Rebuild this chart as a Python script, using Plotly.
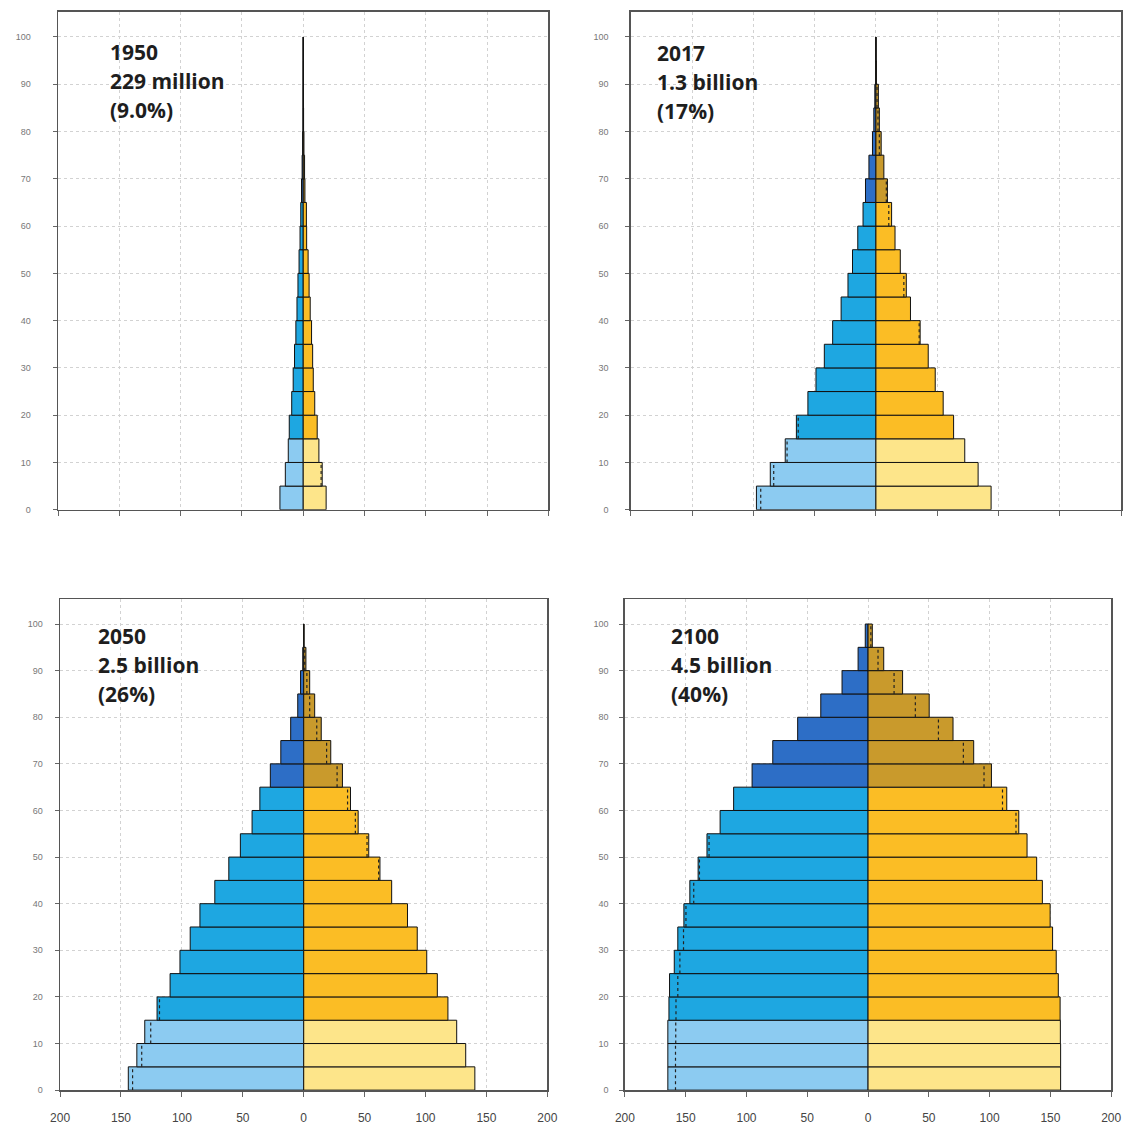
import plotly.graph_objects as go

# Age groups (start of each 5-year group)
age_start = [0, 5, 10, 15, 20, 25, 30, 35, 40, 45, 50, 55, 60, 65, 70, 75, 80, 85, 90, 95]
age_ticks = [0, 10, 20, 30, 40, 50, 60, 70, 80, 90, 100]
x_ticks = [-200, -150, -100, -50, 0, 50, 100, 150, 200]
x_tick_labels = ["200", "150", "100", "50", "0", "50", "100", "150", "200"]

# Population in millions, by age group
male_1950 = [19.0, 14.6, 12.2, 11.4, 9.4, 8.2, 7.1, 6.0, 5.1, 4.3, 3.4, 2.6, 2.0, 1.4, 0.9, 0.5, 0.2, 0.08, 0.03, 0.01]
female_1950 = [18.7, 15.5, 12.8, 11.4, 9.4, 8.2, 7.7, 6.8, 5.7, 4.8, 4.0, 2.8, 2.6, 1.4, 1.1, 0.6, 0.3, 0.1, 0.04, 0.01]

male_2017 = [97.5, 86.2, 74.0, 64.9, 55.5, 48.9, 42.1, 35.3, 28.4, 22.8, 19.1, 14.8, 10.5, 8.5, 5.7, 2.8, 1.7, 0.9, 0.2, 0.05]
female_2017 = [94.0, 83.4, 72.5, 63.4, 54.9, 48.4, 42.7, 36.1, 28.2, 24.8, 19.9, 15.6, 12.8, 9.4, 6.5, 4.3, 2.8, 2.0, 0.4, 0.1]

male_2050 = [144.0, 137.0, 130.5, 120.4, 109.7, 101.6, 93.2, 85.2, 73.0, 61.5, 52.0, 42.4, 36.0, 27.4, 18.8, 10.7, 4.9, 2.6, 0.8, 0.1]
female_2050 = [140.5, 133.0, 125.6, 118.4, 109.7, 101.0, 93.2, 85.2, 72.2, 62.6, 53.4, 44.7, 38.4, 31.8, 22.2, 14.4, 9.0, 4.9, 1.8, 0.3]

male_2100 = [164.7, 164.7, 164.7, 163.8, 163.3, 159.4, 156.5, 151.5, 146.6, 139.8, 132.5, 121.7, 110.6, 95.4, 78.4, 57.9, 38.9, 21.4, 8.2, 2.3]
female_2100 = [158.4, 158.4, 158.2, 158.0, 156.5, 154.8, 151.8, 149.8, 143.4, 138.7, 130.8, 124.0, 114.1, 101.5, 86.9, 69.9, 50.3, 28.4, 12.9, 3.5]

panel_years = ["1950", "2017", "2050", "2100"]
panel_totals = ["229 million", "1.3 billion", "2.5 billion", "4.5 billion"]
panel_shares = ["(9.0%)", "(17%)", "(26%)", "(40%)"]

males = [male_1950, male_2017, male_2050, male_2100]
females = [female_1950, female_2017, female_2050, female_2100]

# Colours: children (0-14), working age (15-64), elderly (65+)
MALE_COLS = ["#8ccbf1", "#1ea7e1", "#2d6ec6"]
FEMALE_COLS = ["#fde58a", "#fbbd25", "#c99a2c"]

def group(a):
    if a < 15:
        return 0
    if a < 65:
        return 1
    return 2

# Layout geometry (paper px) for the four panels
W, H = 1131, 1127
x_doms = [(49, 548), (632, 1131), (51, 547), (626, 1121)]
y_doms = [(12, 512), (12, 512), (602, 1095), (602, 1095)]
y_standoff = [20, 15, 10, 9]
text_pos = [(100, 52), (657, 53), (88, 639), (671, 639)]

fig = go.Figure()
layout = dict(
    width=W, height=H, margin=dict(l=0, r=0, t=0, b=0, pad=0),
    paper_bgcolor="white", plot_bgcolor="white",
    showlegend=False, barmode="overlay", bargap=0,
)
annotations = []

for p in range(4):
    suffix = "" if p == 0 else str(p + 1)
    xa, ya = "x" + suffix, "y" + suffix
    m, f = males[p], females[p]
    mids = [a + 2.5 for a in age_start]
    mcol = [MALE_COLS[group(a)] for a in age_start]
    fcol = [FEMALE_COLS[group(a)] for a in age_start]

    fig.add_trace(go.Bar(
        x=[-v for v in m], y=mids, orientation="h", width=5,
        marker=dict(color=mcol, line=dict(color="#111", width=1)),
        xaxis=xa, yaxis=ya, hoverinfo="skip"))
    fig.add_trace(go.Bar(
        x=f, y=mids, orientation="h", width=5,
        marker=dict(color=fcol, line=dict(color="#111", width=1)),
        xaxis=xa, yaxis=ya, hoverinfo="skip"))

    # dotted marks: other sex's value mirrored inside a larger bar
    dx, dy = [], []
    for a, mv, fv in zip(age_start, m, f):
        if fv < mv - 0.8:
            dx += [-fv, -fv, None]
            dy += [a, a + 5, None]
        elif mv < fv - 0.8:
            dx += [mv, mv, None]
            dy += [a, a + 5, None]
    fig.add_trace(go.Scatter(
        x=dx, y=dy, mode="lines", line=dict(color="#222", width=1.2, dash="dot"),
        xaxis=xa, yaxis=ya, hoverinfo="skip"))

    x0, x1 = x_doms[p]
    y0, y1 = y_doms[p]
    xkey = "xaxis" + suffix
    ykey = "yaxis" + suffix
    layout[xkey] = dict(
        domain=[x0 / W, x1 / W], range=[-200, 200], anchor=ya,
        tickvals=x_ticks, ticktext=x_tick_labels,
        showticklabels=(p >= 2), ticks="outside", ticklen=5, tickcolor="#666",
        tickfont=dict(size=12, color="#444", family="Liberation Sans"),
        ticklabelstandoff=11,
        showgrid=True, gridcolor="#d2d2d2", griddash="dot", gridwidth=1,
        zeroline=False, showline=True, mirror=True, linecolor="#555", linewidth=1.5,
        fixedrange=True)
    layout[ykey] = dict(
        domain=[1 - y1 / H, 1 - y0 / H], range=[0, 105.3], anchor=xa,
        tickvals=age_ticks, ticks="outside", ticklen=4, tickcolor="#666",
        tickfont=dict(size=9, color="#777", family="Liberation Sans"),
        ticklabelstandoff=y_standoff[p],
        showgrid=True, gridcolor="#d2d2d2", griddash="dot", gridwidth=1,
        zeroline=False, showline=True, mirror=True, linecolor="#555", linewidth=1.5,
        fixedrange=True)

    tx, ty = text_pos[p]
    for k, txt in enumerate([panel_years[p], panel_totals[p], panel_shares[p]]):
        annotations.append(dict(
            x=tx / W, y=1 - (ty + 29 * k) / H, xref="paper", yref="paper",
            xanchor="left", yanchor="middle", showarrow=False, text=txt,
            font=dict(size=21, color="#1e1e1e", family="Open Sans", weight="bold")))

layout["annotations"] = annotations
fig.update_layout(**layout)
fig.write_html(
    "out.html",
    config={"displayModeBar": False, "staticPlot": True},
    post_script=(
        "document.documentElement.style.overflow='hidden';"
        "document.body.style.overflow='hidden';"
        "document.body.style.margin='0';document.body.style.padding='0';"
    ),
)
